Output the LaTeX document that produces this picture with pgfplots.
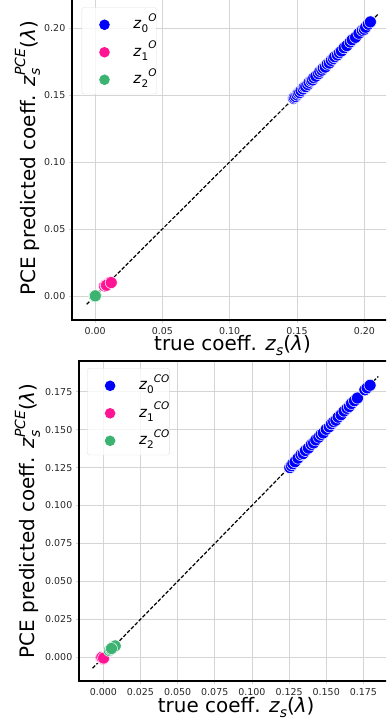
\documentclass[border=0pt]{standalone}
\usepackage{fontspec}
\setmainfont{DejaVu Sans}
\usepackage{pgfplots}
\pgfplotsset{compat=1.18}
\definecolor{zblue}{HTML}{0000FF}
\definecolor{zpink}{HTML}{FF1493}
\definecolor{zgreen}{HTML}{3CB371}
\definecolor{gridgray}{HTML}{D5D5D5}
\definecolor{ticklab}{HTML}{262626}
\newcommand{\xlab}{true coeff. \textit{z}\raisebox{-0.22em}{\fontsize{14}{14}\selectfont\textit{s}}(\textit{λ})}
\newcommand{\ylab}{PCE predicted coeff. \textit{z}\makebox[0pt][l]{\raisebox{-0.25em}{\fontsize{14}{14}\selectfont\textit{s}}}\raisebox{0.5em}{\fontsize{14}{14}\selectfont\textit{PCE}}(\textit{λ})}
\newcommand{\lz}[2]{\textit{z}\raisebox{-0.28em}{\fontsize{10.5}{10.5}\selectfont #1}\raisebox{0.5em}{\fontsize{10.5}{10.5}\selectfont\textit{#2}}\hspace{7bp}}
\pgfplotsset{
  myaxis/.style={
    scale only axis,
    axis line style={black, line width=2bp},
    grid=major, major grid style={gridgray, line width=0.8bp},
    tick align=outside, major tick length=3.5bp,
    tick style={gridgray, line width=0.8bp},
    xtick pos=bottom, ytick pos=left,
    tick label style={font=\fontsize{9.5}{11}\selectfont, text=ticklab},
    /pgf/number format/assume math mode=true,
    /pgf/number format/fixed, /pgf/number format/fixed zerofill,
    label style={font=\fontsize{20}{24}\selectfont},
    legend cell align=left,
    legend style={draw=gray!25, rounded corners=2bp, fill=white, fill opacity=0.8, text opacity=1,
      font=\fontsize{15}{17}\selectfont, inner xsep=0pt, inner ysep=2bp,
      nodes={inner sep=0pt, text height=19bp, text depth=8.5bp}},
    legend image code/.code={\path[draw=none, fill=none] (-22.6bp,0) -- (29bp,0);
       \fill[##1, draw=none, fill opacity=1, sharp corners] (0,-1.5bp) circle (5.3bp);},
    scat/.style={only marks, mark=*, mark size=6bp, mark options={draw=white, line width=0.5bp}},
  }
}
\begin{document}
\begin{tikzpicture}[x=1bp,y=1bp]
\path[use as bounding box] (0,0) rectangle (386,724);
\clip (0,0) rectangle (386,724);
% ---------------- top axis
\begin{axis}[myaxis, at={(72.3bp,404bp)}, anchor=south west,
  width=320.4bp, height=323bp,
  xmin=-0.0169, xmax=0.2211, ymin=-0.0179, ymax=0.2231,
  xtick={0,0.05,0.1,0.15,0.2}, ytick={0,0.05,0.1,0.15,0.2},
  /pgf/number format/precision=2,
  xlabel={\xlab}, ylabel={\ylab},
  xlabel style={at={(axis description cs:0.5,-0.096)}, anchor=base},
  ylabel style={at={(axis description cs:-0.1164,0.5)}, anchor=base},
  legend style={at={(0.0293,0.968)}, anchor=north west},
]
\addplot[scat, zblue] coordinates {
(0.1475,0.1475) (0.1480,0.1482) (0.1490,0.1488) (0.1500,0.1500) (0.1510,0.1512)
(0.1520,0.1518) (0.1530,0.1532) (0.1545,0.1545) (0.1555,0.1560) (0.1565,0.1562)
(0.1580,0.1578) (0.1590,0.1594) (0.1605,0.1605) (0.1615,0.1612) (0.1625,0.1628)
(0.1640,0.1640) (0.1660,0.1658) (0.1670,0.1675) (0.1685,0.1685) (0.1695,0.1700)
(0.1710,0.1708) (0.1725,0.1730) (0.1740,0.1738) (0.1755,0.1758) (0.1770,0.1772)
(0.1780,0.1785) (0.1800,0.1798) (0.1815,0.1815) (0.1830,0.1828) (0.1850,0.1852)
(0.1870,0.1868) (0.1895,0.1895) (0.1910,0.1912) (0.1935,0.1930) (0.1960,0.1960)
(0.1985,0.1982) (0.2000,0.1990) (0.2010,0.2005) (0.2030,0.2028) (0.2045,0.2045)};
\addlegendentry{\lz{0}{O}}
\addplot[scat, zpink] coordinates {
(0.0070,0.0075) (0.0080,0.0082) (0.0090,0.0085) (0.0095,0.0092) (0.0100,0.0095)
(0.0105,0.0098) (0.0110,0.0100) (0.0085,0.0080) (0.0120,0.0100)};
\addlegendentry{\lz{1}{O}}
\addplot[scat, zgreen] coordinates {
(0.0000,0.0000) (0.0005,0.0002) (-0.0003,-0.0002) (0.0002,0.0001)};
\addlegendentry{\lz{2}{O}}
\addplot[black, line width=1.2bp, dash pattern=on 3.7bp off 1.8bp, forget plot]
  coordinates {(-0.0062,-0.0062) (0.2106,0.2106)};
\end{axis}
% ---------------- bottom axis
\begin{axis}[myaxis, at={(79.3bp,43bp)}, anchor=south west,
  width=313.8bp, height=320bp,
  xmin=-0.01615, xmax=0.1950, ymin=-0.0156, ymax=0.1952,
  xtick={0,0.025,0.05,0.075,0.1,0.125,0.15,0.175},
  ytick={0,0.025,0.05,0.075,0.1,0.125,0.15,0.175},
  /pgf/number format/precision=3,
  xlabel={\xlab}, ylabel={\ylab},
  xlabel style={at={(axis description cs:0.5,-0.099)}, anchor=base},
  ylabel style={at={(axis description cs:-0.1412,0.5)}, anchor=base},
  legend style={at={(0.0255,0.977)}, anchor=north west},
]
\addplot[scat, zblue] coordinates {
(0.1255,0.1250) (0.1265,0.1262) (0.1275,0.1275) (0.1290,0.1288) (0.1310,0.1312)
(0.1330,0.1335) (0.1345,0.1342) (0.1360,0.1362) (0.1380,0.1378) (0.1400,0.1402)
(0.1415,0.1412) (0.1430,0.1432) (0.1450,0.1450) (0.1465,0.1468) (0.1480,0.1478)
(0.1500,0.1502) (0.1520,0.1518) (0.1535,0.1538) (0.1550,0.1552) (0.1565,0.1562)
(0.1580,0.1582) (0.1600,0.1598) (0.1620,0.1622) (0.1640,0.1640) (0.1655,0.1652)
(0.1670,0.1672) (0.1690,0.1690) (0.1710,0.1708) (0.1760,0.1762) (0.1775,0.1775)
(0.1795,0.1792)};
\addlegendentry{\lz{0}{CO}}
\addplot[scat, zpink] coordinates {
(-0.0015,-0.0002) (-0.0008,-0.0008) (0.0000,-0.0010) (-0.0010,0.0000) (0.0002,-0.0005)};
\addlegendentry{\lz{1}{CO}}
\addplot[scat, zgreen] coordinates {
(0.0040,0.0045) (0.0050,0.0052) (0.0060,0.0060) (0.0065,0.0068) (0.0070,0.0072)
(0.0080,0.0075) (0.0055,0.0058)};
\addlegendentry{\lz{2}{CO}}
\addplot[black, line width=1.2bp, dash pattern=on 3.7bp off 1.8bp, forget plot]
  coordinates {(-0.0072,-0.0072) (0.185,0.185)};
\end{axis}
\end{tikzpicture}
\end{document}
